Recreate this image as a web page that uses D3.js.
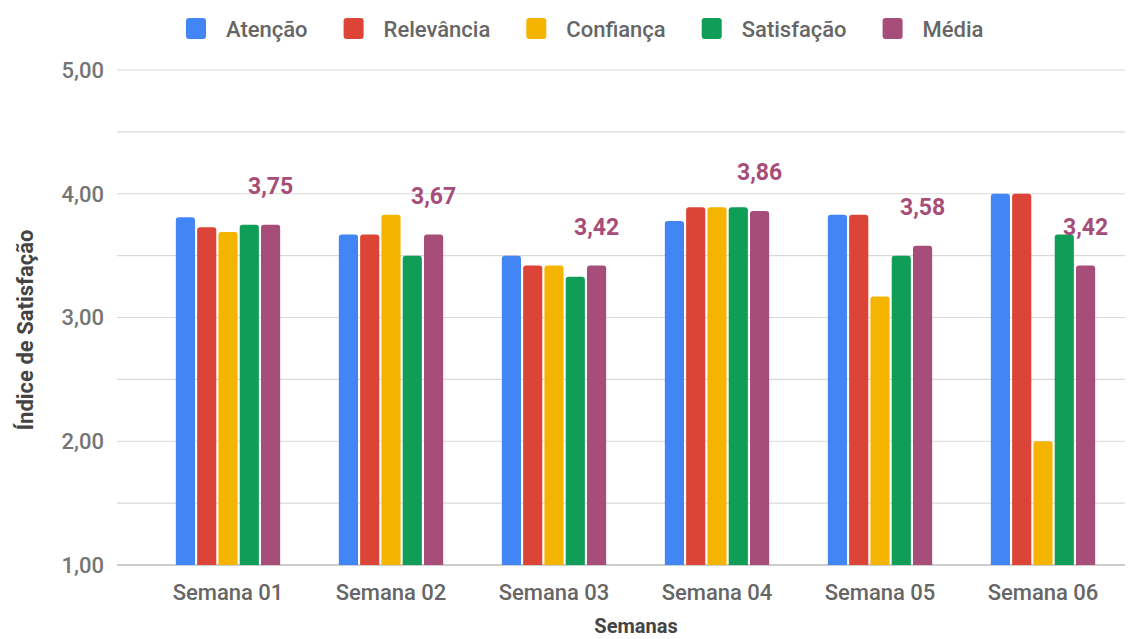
<!DOCTYPE html>
<html>
<head>
<meta charset="utf-8">
<script src="https://cdn.jsdelivr.net/npm/d3@7"></script>
<style>
  body { margin: 0; background: #fff; }
  text { font-family: Roboto, "Noto Sans", sans-serif; }
</style>
</head>
<body>
<svg id="chart" width="1145" height="639"></svg>
<script>
var weeks = ["Semana 01", "Semana 02", "Semana 03", "Semana 04", "Semana 05", "Semana 06"];
var seriesNames = ["Atenção", "Relevância", "Confiança", "Satisfação", "Média"];
var atencao    = [3.81, 3.67, 3.50, 3.78, 3.83, 4.00];
var relevancia = [3.73, 3.67, 3.42, 3.89, 3.83, 4.00];
var confianca  = [3.69, 3.83, 3.42, 3.89, 3.17, 2.00];
var satisfacao = [3.75, 3.50, 3.33, 3.89, 3.50, 3.67];
var media      = [3.75, 3.67, 3.42, 3.86, 3.58, 3.42];
var yTicks = [1, 2, 3, 4, 5];
var colors = ["#4285f4", "#db4437", "#f4b400", "#0f9d58", "#a64d79"];

var allSeries = [atencao, relevancia, confianca, satisfacao, media];

var svg = d3.select("#chart");
var plotLeft = 117, plotRight = 1125, plotTop = 70, plotBottom = 565;

var y = d3.scaleLinear().domain([1, 5]).range([plotBottom, plotTop]);
var x0 = d3.scaleBand().domain(weeks).range([146.5, 1124.5])
    .paddingInner(0.36).paddingOuter(0.18);
var x1 = d3.scaleBand().domain(seriesNames).range([0, x0.bandwidth()])
    .paddingInner(0.1);

// gridlines every 0.5
var gridVals = d3.range(1, 5.01, 0.5);
svg.append("g").selectAll("line")
    .data(gridVals)
    .enter().append("line")
    .attr("x1", plotLeft).attr("x2", plotRight)
    .attr("y1", function(d) { return y(d); })
    .attr("y2", function(d) { return y(d); })
    .attr("stroke", function(d) { return d === 1 ? "#bdbdbd" : "#d9d9d9"; })
    .attr("stroke-width", function(d) { return d === 1 ? 1.5 : 1.2; });

// y tick labels
svg.append("g").selectAll("text")
    .data(yTicks)
    .enter().append("text")
    .attr("x", 104)
    .attr("y", function(d) { return y(d); })
    .attr("dy", "0.36em")
    .attr("text-anchor", "end")
    .attr("font-size", 22)
    .attr("font-weight", 500)
    .attr("fill", "#757575")
    .text(function(d) { return d.toFixed(2).replace(".", ","); });

// bars
var radius = 3;
function barPath(x, w, yTop, yBot) {
    var r = Math.min(radius, w / 2, yBot - yTop);
    return "M" + x + "," + yBot +
        "V" + (yTop + r) +
        "Q" + x + "," + yTop + " " + (x + r) + "," + yTop +
        "H" + (x + w - r) +
        "Q" + (x + w) + "," + yTop + " " + (x + w) + "," + (yTop + r) +
        "V" + yBot + "Z";
}

var groups = svg.append("g").selectAll("g")
    .data(weeks)
    .enter().append("g")
    .attr("transform", function(d) { return "translate(" + x0(d) + ",0)"; });

groups.selectAll("path")
    .data(function(d, i) {
        return seriesNames.map(function(s, j) {
            return { series: s, idx: j, value: allSeries[j][i] };
        });
    })
    .enter().append("path")
    .attr("d", function(d) {
        return barPath(x1(d.series), x1.bandwidth(), y(d.value), y(1));
    })
    .attr("fill", function(d) { return colors[d.idx]; });

// média annotations
svg.append("g").selectAll("text")
    .data(weeks)
    .enter().append("text")
    .attr("x", function(d) { return x0(d) + x1("Média") + x1.bandwidth() / 2; })
    .attr("y", function(d, i) { return y(media[i]) - 31; })
    .attr("text-anchor", "middle")
    .attr("font-size", 23)
    .attr("font-weight", "bold")
    .attr("fill", "#a64d79")
    .text(function(d, i) { return media[i].toFixed(2).replace(".", ","); });

// x category labels
svg.append("g").selectAll("text")
    .data(weeks)
    .enter().append("text")
    .attr("x", function(d) { return x0(d) + x0.bandwidth() / 2; })
    .attr("y", 600)
    .attr("text-anchor", "middle")
    .attr("font-size", 22)
    .attr("font-weight", 500)
    .attr("fill", "#666")
    .text(function(d) { return d; });

// axis titles
svg.append("text")
    .attr("x", 636).attr("y", 633)
    .attr("text-anchor", "middle")
    .attr("font-size", 20)
    .attr("font-weight", "bold")
    .attr("fill", "#444")
    .text("Semanas");

svg.append("text")
    .attr("transform", "translate(33,330) rotate(-90)")
    .attr("text-anchor", "middle")
    .attr("font-size", 22)
    .attr("font-weight", "bold")
    .attr("fill", "#444")
    .text("Índice de Satisfação");

// legend
var legend = svg.append("g");
var lx = 186;
seriesNames.forEach(function(name, i) {
    legend.append("rect")
        .attr("x", lx).attr("y", 18)
        .attr("width", 20).attr("height", 21)
        .attr("rx", 3)
        .attr("fill", colors[i]);
    var t = legend.append("text")
        .attr("x", lx + 40).attr("y", 37)
        .attr("font-size", 22)
        .attr("font-weight", 500)
        .attr("fill", "#666")
        .text(name);
    lx += 40 + t.node().getComputedTextLength() + 36;
});
</script>
</body>
</html>
